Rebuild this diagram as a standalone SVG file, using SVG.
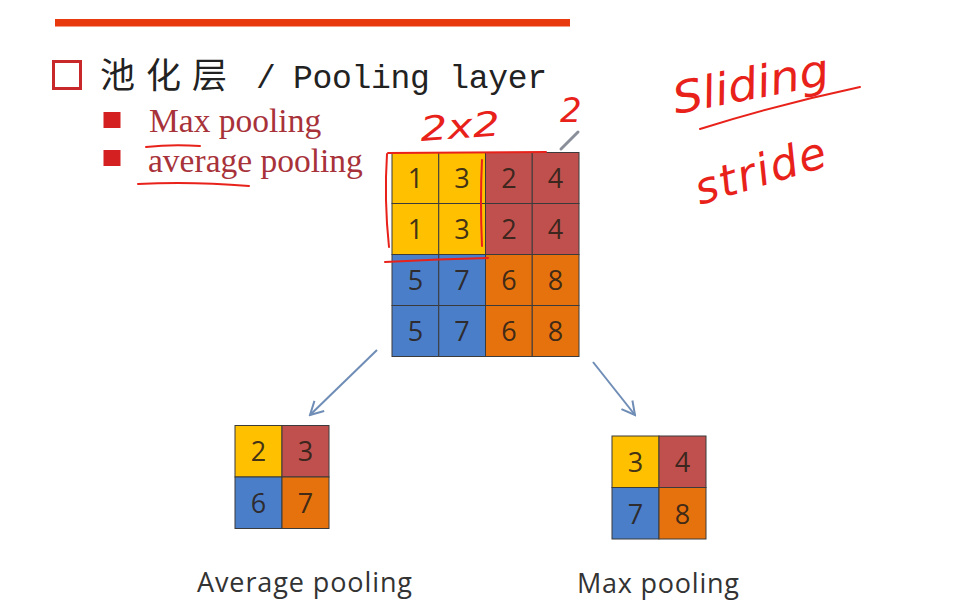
<svg xmlns="http://www.w3.org/2000/svg" width="959" height="614" viewBox="0 0 959 614">
<defs>
<style>
.cell{stroke:#3b3b3b;stroke-width:1}
.y{fill:#FFC000}.b{fill:#C0504D}.bl{fill:#4A7EC8}.o{fill:#E6720E}
.num{font-family:"Open Sans","Liberation Sans",sans-serif;font-size:27px;fill:#2a2118;fill-opacity:0.9;text-anchor:middle}
.cap{font-family:"Open Sans","Liberation Sans",sans-serif;font-size:27px;fill:#333}
.bul{font-family:"Liberation Serif",serif;font-size:33.5px;fill:#A8323A}
.hand{font-family:"DejaVu Sans",sans-serif;font-style:italic;fill:#E8221A}
.pen{fill:none;stroke:#E8221A;stroke-width:2;stroke-linecap:round;stroke-linejoin:round}
.conn{fill:none;stroke:#6F8DB6;stroke-width:2}
</style>
<marker id="arr" viewBox="0 0 16 16" refX="14" refY="8" markerWidth="16" markerHeight="16" markerUnits="userSpaceOnUse" orient="auto">
<path d="M1,1 L14,8 L1,15" fill="none" stroke="#6F8DB6" stroke-width="2"/>
</marker>
</defs>
<rect width="959" height="614" fill="#ffffff"/>

<g id="header">
<rect x="55" y="19" width="515" height="7.5" fill="#E8380D"/>
<rect x="53.5" y="61.5" width="27" height="27" fill="none" stroke="#C8282A" stroke-width="3"/>
<text x="100" y="88" font-family="Noto Sans CJK SC,sans-serif" font-size="35" fill="#222" letter-spacing="11">池化层</text>
<text x="256" y="88" font-family="Liberation Mono,monospace" font-size="33" fill="#222">/</text>
<text x="293" y="88" font-family="Liberation Mono,monospace" font-size="33" fill="#222" textLength="254">Pooling layer</text>
</g>

<g id="bullets">
<rect x="103.5" y="112" width="17" height="16" fill="#D42020"/>
<rect x="103.5" y="150" width="17" height="16" fill="#D42020"/>
<text class="bul" x="149" y="132">Max pooling</text>
<text class="bul" x="148" y="172">average pooling</text>
</g>

<g id="input-grid">
<rect class="cell y" x="392" y="152.5" width="46.75" height="51"/>
<rect class="cell y" x="438.75" y="152.5" width="46.75" height="51"/>
<rect class="cell b" x="485.5" y="152.5" width="46.75" height="51"/>
<rect class="cell b" x="532.25" y="152.5" width="46.75" height="51"/>
<rect class="cell y" x="392" y="203.5" width="46.75" height="51"/>
<rect class="cell y" x="438.75" y="203.5" width="46.75" height="51"/>
<rect class="cell b" x="485.5" y="203.5" width="46.75" height="51"/>
<rect class="cell b" x="532.25" y="203.5" width="46.75" height="51"/>
<rect class="cell bl" x="392" y="254.5" width="46.75" height="51"/>
<rect class="cell bl" x="438.75" y="254.5" width="46.75" height="51"/>
<rect class="cell o" x="485.5" y="254.5" width="46.75" height="51"/>
<rect class="cell o" x="532.25" y="254.5" width="46.75" height="51"/>
<rect class="cell bl" x="392" y="305.5" width="46.75" height="51"/>
<rect class="cell bl" x="438.75" y="305.5" width="46.75" height="51"/>
<rect class="cell o" x="485.5" y="305.5" width="46.75" height="51"/>
<rect class="cell o" x="532.25" y="305.5" width="46.75" height="51"/>
<text class="num" x="415.4" y="188">1</text><text class="num" x="462.1" y="188">3</text><text class="num" x="508.9" y="188">2</text><text class="num" x="555.6" y="188">4</text>
<text class="num" x="415.4" y="239">1</text><text class="num" x="462.1" y="239">3</text><text class="num" x="508.9" y="239">2</text><text class="num" x="555.6" y="239">4</text>
<text class="num" x="415.4" y="290">5</text><text class="num" x="462.1" y="290">7</text><text class="num" x="508.9" y="290">6</text><text class="num" x="555.6" y="290">8</text>
<text class="num" x="415.4" y="341">5</text><text class="num" x="462.1" y="341">7</text><text class="num" x="508.9" y="341">6</text><text class="num" x="555.6" y="341">8</text>
</g>

<g id="avg-grid">
<rect class="cell y" x="235" y="425.5" width="47" height="51.5"/>
<rect class="cell b" x="282" y="425.5" width="47" height="51.5"/>
<rect class="cell bl" x="235" y="477" width="47" height="51.5"/>
<rect class="cell o" x="282" y="477" width="47" height="51.5"/>
<text class="num" x="258.5" y="461">2</text><text class="num" x="305.5" y="461">3</text>
<text class="num" x="258.5" y="513">6</text><text class="num" x="305.5" y="513">7</text>
</g>

<g id="max-grid">
<rect class="cell y" x="612" y="436" width="47" height="51.5"/>
<rect class="cell b" x="659" y="436" width="47" height="51.5"/>
<rect class="cell bl" x="612" y="487.5" width="47" height="51.5"/>
<rect class="cell o" x="659" y="487.5" width="47" height="51.5"/>
<text class="num" x="635.5" y="471.5">3</text><text class="num" x="682.5" y="471.5">4</text>
<text class="num" x="635.5" y="523.5">7</text><text class="num" x="682.5" y="523.5">8</text>
</g>

<g id="connectors">
<line class="conn" x1="377" y1="350" x2="310" y2="415" marker-end="url(#arr)"/>
<line class="conn" x1="593" y1="362" x2="635" y2="415" marker-end="url(#arr)"/>
</g>

<g id="labels">
<text class="cap" x="197" y="592" textLength="215">Average pooling</text>
<text class="cap" x="577" y="593" textLength="162">Max pooling</text>
</g>

<g id="annotations">
<path class="pen" d="M146,147 Q172,144 200,146"/>
<path class="pen" d="M138,184 Q190,181 249,186"/>
<path class="pen" d="M387,154 Q384,200 389,247"/>
<path class="pen" d="M388,153 L546,152"/>
<path class="pen" d="M482,160 Q480,200 482,246"/>
<path class="pen" d="M385,262 Q440,259 488,258"/>
<line x1="561" y1="149" x2="578" y2="132" stroke="#8a8f99" stroke-width="3" stroke-linecap="round"/>
<text class="hand" x="421" y="141" font-size="34" textLength="80" lengthAdjust="spacingAndGlyphs" transform="rotate(-4 421 141)">2x2</text>
<text class="hand" x="560" y="122" font-size="34">2</text>
<text class="hand" x="676" y="114" font-size="44" textLength="158" lengthAdjust="spacingAndGlyphs" transform="rotate(-11 676 114)">Sliding</text>
<path class="pen" d="M700,129 Q780,104 860,87"/>
<text class="hand" x="700" y="205" font-size="44" textLength="135" transform="rotate(-17 700 205)">stride</text>
</g>
</svg>
